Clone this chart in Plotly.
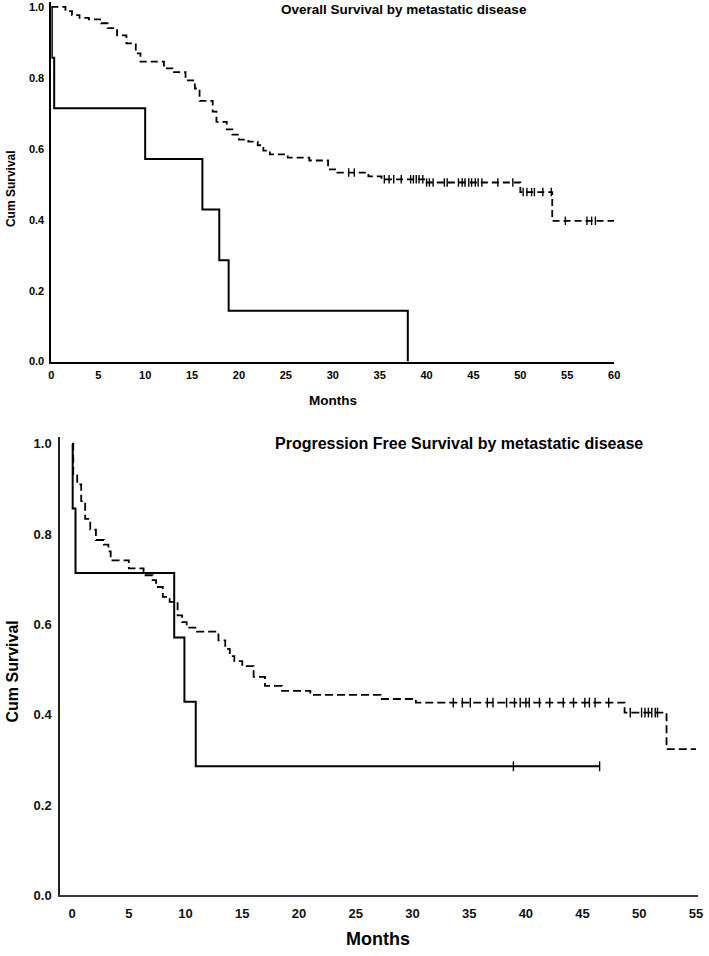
import plotly.graph_objects as go

W, H = 709, 956

# ---------------- DATA ----------------
# Overall survival, metastatic (solid)
os_m1_times = [0.05, 0.3, 10.0, 16.1, 17.9, 18.9, 38.0]
os_m1_surv = [0.857, 0.714, 0.571, 0.429, 0.286, 0.143, 0.0]
os_m1_end = 38.0
os_m1_censor = []

# Overall survival, non-metastatic (dashed)
os_m0_times = [1.5, 2.2, 3.0, 4.0, 5.3, 6.0, 7.0, 8.0, 9.0, 9.5, 12.0, 12.9, 14.3, 15.3,
               15.8, 17.2, 17.6, 18.7, 19.3, 20.0, 21.0, 22.0, 22.6, 23.3, 25.2, 27.5,
               29.5, 30.5, 33.8, 35.2, 39.9, 50.0, 53.4]
os_m0_surv = [0.988, 0.977, 0.969, 0.965, 0.954, 0.940, 0.920, 0.897, 0.869, 0.846, 0.827,
              0.816, 0.793, 0.770, 0.735, 0.705, 0.676, 0.655, 0.640, 0.626, 0.620, 0.610,
              0.595, 0.584, 0.575, 0.567, 0.542, 0.533, 0.522, 0.514, 0.505, 0.478, 0.397]
os_m0_end = 60.0
os_m0_censor = [31.7, 32.3, 35.5, 36.0, 36.5, 37.3, 38.3, 38.6, 38.9, 39.2, 39.6,
                40.0, 40.3, 40.7, 41.9, 42.2, 43.4, 43.8, 44.1, 44.5, 44.8, 45.2, 45.5,
                45.9, 47.6, 49.2, 50.3, 50.7, 51.2, 51.5, 52.4, 53.3, 54.8, 57.1, 57.6, 58.0]

# Progression free survival, metastatic (solid)
pfs_m1_times = [0.05, 0.3, 9.0, 9.9, 10.9]
pfs_m1_surv = [0.857, 0.714, 0.571, 0.429, 0.286]
pfs_m1_end = 46.5
pfs_m1_censor = [38.9, 46.5]

# Progression free survival, non-metastatic (dashed)
pfs_m0_times = [0.1, 0.45, 0.8, 1.15, 1.6, 2.1, 2.8, 3.2, 3.4, 5.0, 6.3, 7.1, 7.4, 8.0, 8.6,
                9.3, 9.7, 10.1, 11.0, 12.9, 13.5, 13.9, 14.3, 15.0, 16.0, 17.0, 18.5, 21.0,
                27.2, 30.3, 48.7, 52.4]
pfs_m0_surv = [0.930, 0.910, 0.873, 0.834, 0.810, 0.787, 0.777, 0.762, 0.742, 0.724, 0.709,
               0.698, 0.683, 0.661, 0.650, 0.620, 0.605, 0.593, 0.584, 0.565, 0.546, 0.530,
               0.519, 0.508, 0.484, 0.464, 0.453, 0.444, 0.435, 0.427, 0.405, 0.324]
pfs_m0_end = 55.0
pfs_m0_censor = [33.6, 34.4, 35.1, 36.6, 37.1, 38.3, 39.0, 39.5, 40.0, 40.3, 41.2, 42.1,
                 43.3, 44.2, 45.2, 45.6, 46.1, 47.3, 49.2, 50.2, 50.5, 50.8, 51.1, 51.4, 51.6]

os_title = "Overall Survival by metastatic disease"
pfs_title = "Progression Free Survival by metastatic disease"
x_label = "Months"
y_label = "Cum Survival"
os_xticks = list(range(0, 61, 5))
pfs_xticks = list(range(0, 56, 5))
yticks = [0.0, 0.2, 0.4, 0.6, 0.8, 1.0]

# ---------------- HELPERS ----------------
FONT = "Arial, Liberation Sans, sans-serif"


def surv_at(times, surv, t):
    s = 1.0
    for ti, si in zip(times, surv):
        if ti <= t:
            s = si
    return s


def step_xy(times, surv, end):
    xs = [0.0] + list(times)
    ys = [1.0] + list(surv)
    if end > xs[-1]:
        xs.append(end)
        ys.append(ys[-1])
    return xs, ys


def px(x):
    return x / W


def py(y):
    return 1 - y / H


fig = go.Figure()


def add_curve(times, surv, end, censor, dash, width, xa, ya, csize):
    xs, ys = step_xy(times, surv, end)
    fig.add_trace(go.Scatter(x=xs, y=ys, mode="lines", line_shape="hv",
                             line=dict(color="black", width=width, dash=dash),
                             xaxis=xa, yaxis=ya, showlegend=False, hoverinfo="skip"))
    if censor:
        fig.add_trace(go.Scatter(x=censor, y=[surv_at(times, surv, c) for c in censor],
                                 mode="markers",
                                 marker=dict(symbol="line-ns", size=csize,
                                             line=dict(color="black", width=1.4)),
                                 xaxis=xa, yaxis=ya, showlegend=False, hoverinfo="skip",
                                 cliponaxis=False))


add_curve(os_m0_times, os_m0_surv, os_m0_end, os_m0_censor, "7px,4px", 1.8, "x", "y", 6)
add_curve(os_m1_times, os_m1_surv, os_m1_end, os_m1_censor, "solid", 2, "x", "y", 6)
add_curve(pfs_m0_times, pfs_m0_surv, pfs_m0_end, pfs_m0_censor, "8px,4px", 1.8, "x2", "y2", 7)
add_curve(pfs_m1_times, pfs_m1_surv, pfs_m1_end, pfs_m1_censor, "solid", 2, "x2", "y2", 7)

# top geometry (pixels)
t_x0, t_ppm = 49.0, 9.5
t_y0, t_y1 = 364.0, 6.0
t_top = t_y1 - 0.015 * (t_y0 - t_y1)
# bottom geometry
b_x0, b_ppm = 70.0, 11.49
b_y0, b_y1 = 903.0, 447.0
b_top = b_y1 - 0.015 * (b_y0 - b_y1)
b_xmin = -(b_x0 - 58.0) / b_ppm
b_xmax = 55.2

fig.update_layout(
    width=W, height=H, margin=dict(l=0, r=0, t=0, b=0),
    paper_bgcolor="white", plot_bgcolor="white",
    font=dict(family=FONT, color="black"),
    hovermode=False, dragmode=False,
    xaxis=dict(domain=[px(t_x0), px(t_x0 + 60 * t_ppm)], range=[0, 60], anchor="y",
               tickvals=os_xticks, showgrid=False, zeroline=False, showline=True,
               linecolor="black", linewidth=2, ticks="", ticklabelstandoff=2,
               tickfont=dict(size=11, family=FONT, weight="bold", color="black")),
    yaxis=dict(domain=[py(t_y0), py(t_top)], range=[0, 1.015], anchor="x",
               tickvals=yticks, tickformat=".1f", showgrid=False, zeroline=False,
               showline=True, linecolor="black", linewidth=2, ticks="",
               ticklabelstandoff=3,
               tickfont=dict(size=11, family=FONT, weight="bold", color="black")),
    xaxis2=dict(domain=[px(58.0), px(b_x0 + b_xmax * b_ppm)], range=[b_xmin, b_xmax],
                anchor="y2", tickvals=pfs_xticks, showgrid=False, zeroline=False,
                showline=True, linecolor="#3a3a3a", linewidth=2, ticks="",
                ticklabelstandoff=5,
                tickfont=dict(size=13, family=FONT, weight="bold", color="#111")),
    yaxis2=dict(domain=[py(b_y0), py(b_top)], range=[0, 1.015], anchor="x2",
                tickvals=yticks, tickformat=".1f", showgrid=False, zeroline=False,
                showline=True, linecolor="#222", linewidth=2, ticks="",
                ticklabelstandoff=4,
                tickfont=dict(size=13, family=FONT, weight="bold", color="#111")),
)


def label(text, x, y, size, angle=0):
    fig.add_annotation(text=text, x=px(x), y=py(y), xref="paper", yref="paper",
                       xanchor="center", yanchor="middle", showarrow=False,
                       textangle=angle,
                       font=dict(size=size, family=FONT, weight="bold", color="black"))


label(os_title, 406, 9, 13.5)
label(x_label, 334, 403, 13.5)
label(y_label, 8, 189, 12, -90)
label(pfs_title, 462, 447, 16)
label(x_label, 380, 947, 18)
label(y_label, 10, 677, 16, -90)

fig.write_html(
    "out.html",
    config={"displayModeBar": False, "staticPlot": True},
    post_script="document.body.style.margin='0';document.body.style.overflow='hidden';",
)
